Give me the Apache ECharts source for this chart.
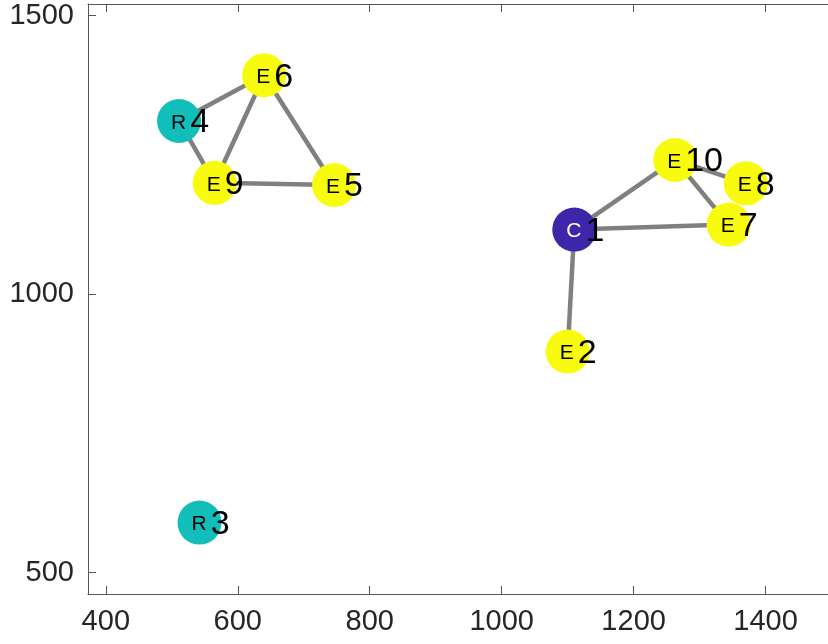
<!DOCTYPE html>
<html>
<head>
<meta charset="utf-8">
<script src="https://cdn.jsdelivr.net/npm/echarts@6/dist/echarts.min.js"></script>
<style>
html,body{margin:0;padding:0;background:#fff;}
#chart{width:828px;height:644px;}
</style>
</head>
<body>
<div id="chart"></div>
<script>
// Node data (in node order 1..10)
var nodeIds = ['1','2','3','4','5','6','7','8','9','10'];
var nodeTypes = ['C','E','R','R','E','E','E','E','E','E'];
var nodeX = [1110, 1100, 542, 511, 746, 640, 1344, 1370, 565, 1263];
var nodeY = [1116, 897, 590, 1311, 1196, 1393, 1125, 1199, 1200, 1241];
// Edges as [source, target] node indices (0-based)
var edgeSource = [0, 0, 0, 9, 9, 3, 3, 5, 5, 8];
var edgeTarget = [1, 9, 6, 6, 7, 5, 8, 8, 4, 4];
// Tick labels
var xTicks = [400, 600, 800, 1000, 1200, 1400];
var yTicks = [500, 1000, 1500];

var typeColor = {C: '#3E26A8', R: '#12BEB9', E: '#F9FB0E'};
var font = 'Liberation Sans, Arial, Helvetica, sans-serif';
var plain = function (v) { return String(v); };

var nodes = nodeIds.map(function (id, i) {
  var t = nodeTypes[i];
  return {
    name: id,
    value: [nodeX[i], nodeY[i]],
    itemStyle: {color: typeColor[t]},
    label: {
      formatter: '{' + (t === 'C' ? 'w' : 'l') + '|' + t + '}{n|' + id + '}'
    }
  };
});
var links = edgeSource.map(function (s, i) {
  return {source: s, target: edgeTarget[i]};
});

var chart = echarts.init(document.getElementById('chart'), null, {renderer: 'canvas'});
chart.setOption({
  animation: false,
  backgroundColor: '#fff',
  grid: {left: 88, right: 0, top: 4, bottom: 50, containLabel: false},
  xAxis: [{
    type: 'value', position: 'bottom', min: 373, max: 1494.6,
    axisLine: {show: true, onZero: false, lineStyle: {color: '#555', width: 1}},
    axisTick: {show: true, inside: true, length: 8, customValues: xTicks, lineStyle: {color: '#555'}},
    axisLabel: {show: true, customValues: xTicks, formatter: plain, margin: 13, color: '#262626', fontSize: 29, fontFamily: font},
    splitLine: {show: false}
  }, {
    type: 'value', position: 'top', min: 373, max: 1494.6,
    axisLine: {show: true, onZero: false, lineStyle: {color: '#555', width: 1}},
    axisTick: {show: true, inside: true, length: 8, customValues: xTicks, lineStyle: {color: '#555'}},
    axisLabel: {show: false},
    splitLine: {show: false}
  }],
  yAxis: [{
    type: 'value', position: 'left', min: 461.8, max: 1521,
    axisLine: {show: true, onZero: false, lineStyle: {color: '#555', width: 1}},
    axisTick: {show: true, inside: true, length: 8, customValues: yTicks, lineStyle: {color: '#555'}},
    axisLabel: {show: true, customValues: yTicks, formatter: plain, margin: 14, color: '#262626', fontSize: 29, fontFamily: font},
    splitLine: {show: false}
  }],
  series: [{
    type: 'graph',
    coordinateSystem: 'cartesian2d',
    xAxisIndex: 0,
    yAxisIndex: 0,
    symbol: 'circle',
    symbolSize: 44,
    data: nodes,
    links: links,
    lineStyle: {color: '#808080', width: 4.5, opacity: 1, curveness: 0},
    label: {
      show: true,
      position: ['50%', '50%'],
      align: 'left',
      verticalAlign: 'middle',
      offset: [-8, 2],
      rich: {
        l: {fontSize: 21, color: '#000', fontFamily: font, padding: [0, 4, 0, 0]},
        w: {fontSize: 21, color: '#fff', fontFamily: font, padding: [0, 4, 0, 0]},
        n: {fontSize: 34, color: '#000', fontFamily: font}
      }
    },
    emphasis: {disabled: true}
  }]
});
</script>
</body>
</html>
